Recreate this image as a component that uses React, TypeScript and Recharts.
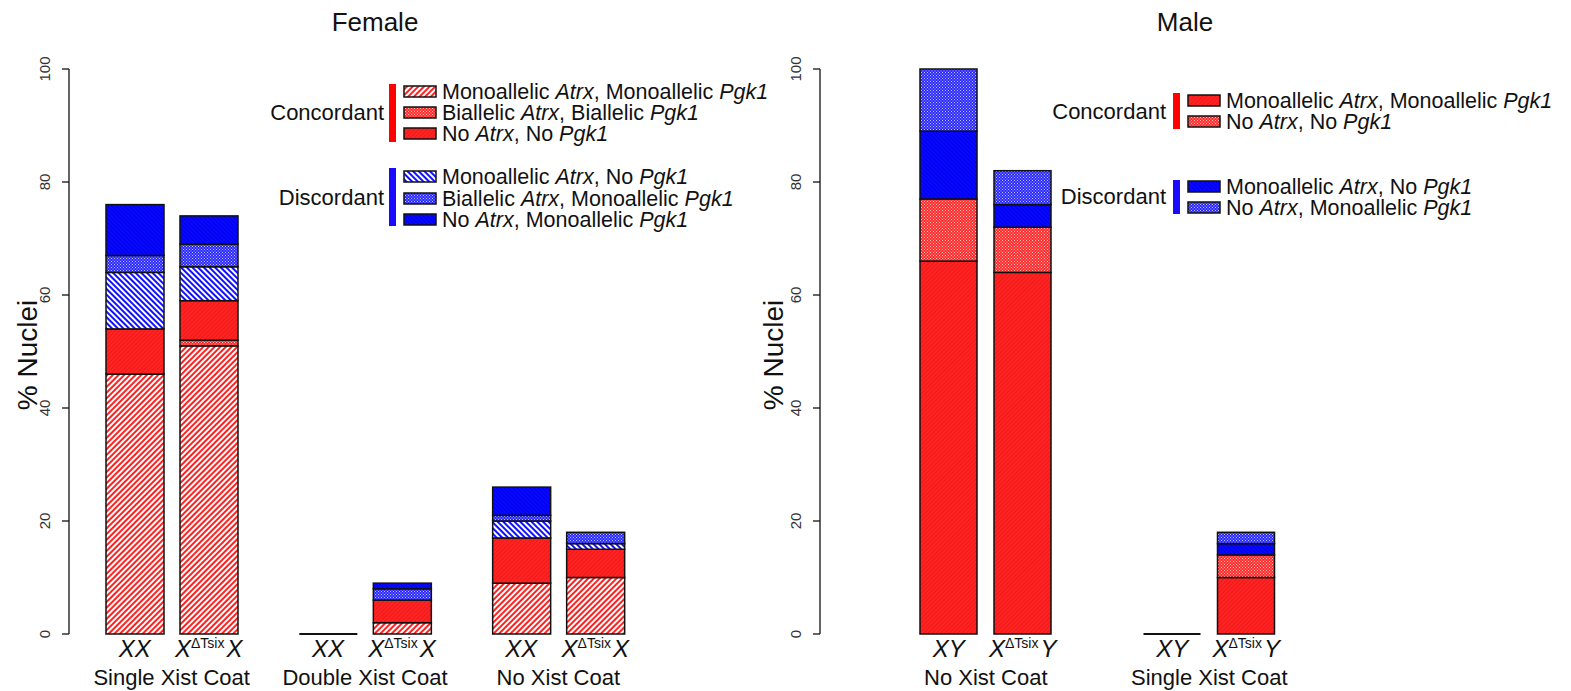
import React from "react";
import { BarChart, Bar, XAxis, YAxis } from "recharts";

const FONT = '"Liberation Sans", Arial, Helvetica, sans-serif';

const femaleGroups = ["Single Xist Coat", "Double Xist Coat", "No Xist Coat"];
const maleGroups = ["No Xist Coat", "Single Xist Coat"];
const yTicks = [0, 20, 40, 60, 80, 100];

// female XX, bottom to top
const femaleXXMonoMono = [46, 0, 9];
const femaleXXBiBi = [0, 0, 0];
const femaleXXNoNo = [8, 0, 8];
const femaleXXMonoNo = [10, 0, 3];
const femaleXXBiMono = [3, 0, 1];
const femaleXXNoMono = [9, 0, 5];

// female XΔTsixX
const femaleKOMonoMono = [51, 2, 10];
const femaleKOBiBi = [1, 0, 0];
const femaleKONoNo = [7, 4, 5];
const femaleKOMonoNo = [6, 0, 1];
const femaleKOBiMono = [4, 2, 2];
const femaleKONoMono = [5, 1, 0];

// male XY
const maleXYMonoMono = [66, 0];
const maleXYNoNo = [11, 0];
const maleXYMonoNo = [12, 0];
const maleXYNoMono = [11, 0];

// male XΔTsixY
const maleKOMonoMono = [64, 10];
const maleKONoNo = [8, 4];
const maleKOMonoNo = [4, 2];
const maleKONoMono = [6, 2];

const femaleData = femaleGroups.map((group, i) => ({
  group,
  xx_mm: femaleXXMonoMono[i],
  xx_bb: femaleXXBiBi[i],
  xx_nn: femaleXXNoNo[i],
  xx_mn: femaleXXMonoNo[i],
  xx_bm: femaleXXBiMono[i],
  xx_nm: femaleXXNoMono[i],
  ko_mm: femaleKOMonoMono[i],
  ko_bb: femaleKOBiBi[i],
  ko_nn: femaleKONoNo[i],
  ko_mn: femaleKOMonoNo[i],
  ko_bm: femaleKOBiMono[i],
  ko_nm: femaleKONoMono[i],
}));

const maleData = maleGroups.map((group, i) => ({
  group,
  xx_mm: maleXYMonoMono[i],
  xx_nn: maleXYNoNo[i],
  xx_mn: maleXYMonoNo[i],
  xx_nm: maleXYNoMono[i],
  ko_mm: maleKOMonoMono[i],
  ko_nn: maleKONoNo[i],
  ko_mn: maleKOMonoNo[i],
  ko_nm: maleKONoMono[i],
}));

const femaleSeries = [
  { key: "mm", fill: "url(#redSparse)" },
  { key: "bb", fill: "url(#redDense)" },
  { key: "nn", fill: "url(#redSolid)" },
  { key: "mn", fill: "url(#blueSparse)" },
  { key: "bm", fill: "url(#blueDense)" },
  { key: "nm", fill: "url(#blueSolid)" },
];

const maleSeries = [
  { key: "mm", fill: "url(#redSolid)" },
  { key: "nn", fill: "url(#redDense)" },
  { key: "mn", fill: "url(#blueSolid)" },
  { key: "nm", fill: "url(#blueDense)" },
];

const barShape = (base: boolean) => (p: any) => {
  const { x, y, width, height, fill } = p;
  if (!height) {
    if (!base) return <g />;
    return <line x1={x} x2={x + width} y1={y} y2={y} stroke="#111" strokeWidth={2} />;
  }
  return <rect x={x} y={y} width={width} height={height} fill={fill} stroke="#111" strokeWidth={1.5} />;
};

const YTick = (p: any) => {
  const { x, y, payload } = p;
  const tx = x - 10;
  return (
    <text x={tx} y={y} transform={`rotate(-90 ${tx} ${y})`} textAnchor="middle" fontSize={15} fill="#333" fontFamily={FONT}>
      {payload.value}
    </text>
  );
};

const GenoLabel = ({ x, y, first, second }: any) => (
  <text x={x} y={y} textAnchor="middle" fontFamily={FONT} fill="#111" fontSize={24}>
    {first === "X" ? (
      <>
        <tspan fontStyle="italic">X</tspan>
        <tspan fontSize={14} dy={-9}>ΔTsix</tspan>
        <tspan fontStyle="italic" dy={9} dx={2}>{second}</tspan>
      </>
    ) : (
      <tspan fontStyle="italic">{first}</tspan>
    )}
  </text>
);

const groupTick = (offset: number, wt: string, koSecond: string) => (p: any) => {
  const { x, payload } = p;
  return (
    <g>
      <GenoLabel x={x - offset} y={657} first={wt} />
      <GenoLabel x={x + offset} y={657} first="X" second={koSecond} />
      <text x={x} y={685} textAnchor="middle" fontFamily={FONT} fontSize={22} fill="#111">
        {payload.value}
      </text>
    </g>
  );
};

const Swatch = ({ x, y, fill }: any) => (
  <rect x={x} y={y - 5} width={32} height={11} fill={fill} stroke="#111" strokeWidth={1.5} />
);

const LegendRow = ({ x, y, fill, parts }: any) => (
  <g>
    <Swatch x={x} y={y} fill={fill} />
    <text x={x + 38} y={y + 8} fontFamily={FONT} fontSize={21.5} fill="#111">
      {parts.map((t: string, i: number) => (
        <tspan key={i} fontStyle={i % 2 === 1 ? "italic" : "normal"}>{t}</tspan>
      ))}
    </text>
  </g>
);

const Patterns = () => (
  <svg width={0} height={0} style={{ position: "absolute" }}>
    <defs>
      <pattern id="redSparse" width={4} height={4} patternUnits="userSpaceOnUse" patternTransform="rotate(-45)">
        <rect width={4} height={4} fill="#fff" />
        <rect width={4} height={2} fill="#ff2020" />
      </pattern>
      <pattern id="blueSparse" width={4} height={4} patternUnits="userSpaceOnUse" patternTransform="rotate(45)">
        <rect width={4} height={4} fill="#fff" />
        <rect width={4} height={2} fill="#1010ff" />
      </pattern>
      <pattern id="redSolid" width={3} height={3} patternUnits="userSpaceOnUse" patternTransform="rotate(-45)">
        <rect width={3} height={3} fill="#ff2424" />
        <rect width={3} height={1} fill="#f01818" />
      </pattern>
      <pattern id="blueSolid" width={3} height={3} patternUnits="userSpaceOnUse" patternTransform="rotate(45)">
        <rect width={3} height={3} fill="#0808ff" />
        <rect width={3} height={1} fill="#0000e8" />
      </pattern>
      <pattern id="redDense" width={3} height={3} patternUnits="userSpaceOnUse">
        <rect width={3} height={3} fill="#ff2a2a" />
        <rect width={1} height={1} fill="#ffc0c0" />
        <rect x={1.5} y={1.5} width={1} height={1} fill="#ffc0c0" />
      </pattern>
      <pattern id="blueDense" width={3} height={3} patternUnits="userSpaceOnUse">
        <rect width={3} height={3} fill="#2a2aff" />
        <rect width={1} height={1} fill="#c0c0ff" />
        <rect x={1.5} y={1.5} width={1} height={1} fill="#c0c0ff" />
      </pattern>
    </defs>
  </svg>
);

const Overlay = () => (
  <svg width={1571} height={691} style={{ position: "absolute", left: 0, top: 0, pointerEvents: "none" }}>
    <g fontFamily={FONT} fill="#111">
      <text x={375} y={31} textAnchor="middle" fontSize={26}>Female</text>
      <text x={1185} y={31} textAnchor="middle" fontSize={26}>Male</text>
      <text x={37} y={355} transform="rotate(-90 37 355)" textAnchor="middle" fontSize={28}>% Nuclei</text>
      <text x={783} y={355} transform="rotate(-90 783 355)" textAnchor="middle" fontSize={28}>% Nuclei</text>

      {/* female legend */}
      <text x={384} y={120} textAnchor="end" fontSize={22}>Concordant</text>
      <rect x={389} y={84} width={7} height={58} fill="#ff0000" />
      <LegendRow x={404} y={91} fill="url(#redSparse)" parts={["Monoallelic ", "Atrx", ", Monoallelic ", "Pgk1"]} />
      <LegendRow x={404} y={112} fill="url(#redDense)" parts={["Biallelic ", "Atrx", ", Biallelic ", "Pgk1"]} />
      <LegendRow x={404} y={133} fill="url(#redSolid)" parts={["No ", "Atrx", ", No ", "Pgk1"]} />
      <text x={384} y={205} textAnchor="end" fontSize={22}>Discordant</text>
      <rect x={389} y={168} width={7} height={58} fill="#1a0aff" />
      <LegendRow x={404} y={176} fill="url(#blueSparse)" parts={["Monoallelic ", "Atrx", ", No ", "Pgk1"]} />
      <LegendRow x={404} y={198} fill="url(#blueDense)" parts={["Biallelic ", "Atrx", ", Monoallelic ", "Pgk1"]} />
      <LegendRow x={404} y={219} fill="url(#blueSolid)" parts={["No ", "Atrx", ", Monoallelic ", "Pgk1"]} />

      {/* male legend */}
      <text x={1166} y={119} textAnchor="end" fontSize={22}>Concordant</text>
      <rect x={1173} y={93} width={7} height={36} fill="#ff0000" />
      <LegendRow x={1188} y={100} fill="url(#redSolid)" parts={["Monoallelic ", "Atrx", ", Monoallelic ", "Pgk1"]} />
      <LegendRow x={1188} y={121} fill="url(#redDense)" parts={["No ", "Atrx", ", No ", "Pgk1"]} />
      <text x={1166} y={204} textAnchor="end" fontSize={22}>Discordant</text>
      <rect x={1173} y={180} width={7} height={34} fill="#1a0aff" />
      <LegendRow x={1188} y={186} fill="url(#blueSolid)" parts={["Monoallelic ", "Atrx", ", No ", "Pgk1"]} />
      <LegendRow x={1188} y={207} fill="url(#blueDense)" parts={["No ", "Atrx", ", Monoallelic ", "Pgk1"]} />
    </g>
  </svg>
);

function Panel({ data, series, width, left, marginRight, yWidth, padLeft, barSize, barGap, offset, wt, koSecond }: any) {
  return (
    <div style={{ position: "absolute", left, top: 0 }}>
      <BarChart
        width={width}
        height={691}
        data={data}
        margin={{ top: 69, right: marginRight, bottom: 0, left: 0 }}
        barSize={barSize}
        barGap={barGap}
      >
        <XAxis
          dataKey="group"
          height={57}
          axisLine={false}
          tickLine={false}
          padding={{ left: padLeft, right: 0 }}
          tick={groupTick(offset, wt, koSecond)}
          interval={0}
        />
        <YAxis
          width={yWidth}
          domain={[0, 100]}
          ticks={yTicks}
          tickSize={7}
          axisLine={{ stroke: "#111", strokeWidth: 1.3 }}
          tickLine={{ stroke: "#111", strokeWidth: 1.3 }}
          tick={<YTick />}
        />
        {["xx", "ko"].map((stack) =>
          series.map((s: any, i: number) => (
            <Bar
              key={`${stack}_${s.key}`}
              dataKey={`${stack}_${s.key}`}
              stackId={stack}
              fill={s.fill}
              shape={barShape(i === 0)}
              isAnimationActive={false}
            />
          ))
        )}
      </BarChart>
    </div>
  );
}

export default function App() {
  return (
    <div style={{ position: "absolute", left: 0, top: 0, width: 1571, height: 691, background: "#fff" }}>
      <Patterns />
      <Panel
        data={femaleData}
        series={femaleSeries}
        width={790}
        left={0}
        marginRight={135}
        yWidth={69}
        padLeft={6}
        barSize={58}
        barGap={16}
        offset={37}
        wt="XX"
        koSecond="X"
      />
      <Panel
        data={maleData}
        series={maleSeries}
        width={821}
        left={750}
        marginRight={250}
        yWidth={70}
        padLeft={54}
        barSize={57}
        barGap={17}
        offset={37}
        wt="XY"
        koSecond="Y"
      />
      <Overlay />
    </div>
  );
}
